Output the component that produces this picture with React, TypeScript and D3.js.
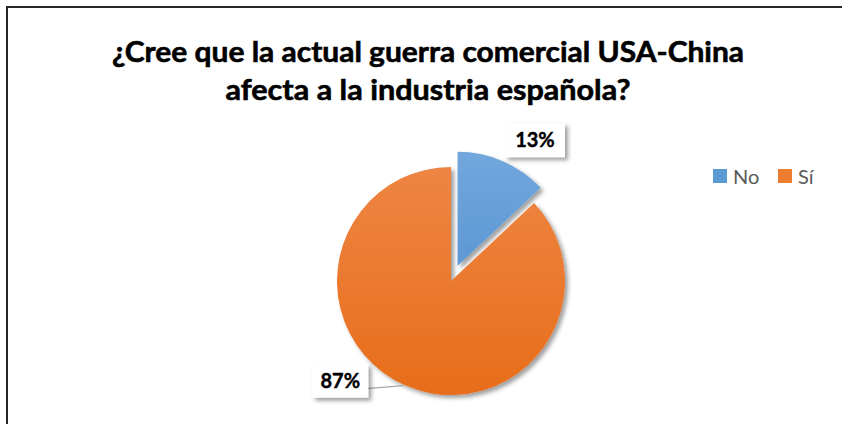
import React from "react";
import * as d3 from "d3";

const categories = ["No", "Sí"];
const values = [13, 87];
const colorsTop = ["#74A9DE", "#EF8746"];
const colorsBottom = ["#4A88CB", "#E76D1A"];
const legendColors = ["#5B9BD5", "#ED7D31"];
const titleLines = ["¿Cree que la actual guerra comercial USA-China", "afecta a la industria española?"];

const W = 842;
const H = 424;
const cx = 451;
const cy = 281;
const R = 114;
const explode = [16.5, 0];
// label placement: [angle in degrees, radius]
const labelPlace = [
  [30.8, 164],
  [228, 149],
];

export default function App() {
  const pie = d3.pie<number>().sort(null).value((d) => d).startAngle(0).endAngle(2 * Math.PI);
  const arcs = pie(values);
  const arc = d3.arc<d3.PieArcDatum<number>>().innerRadius(0).outerRadius(R);
  const total = d3.sum(values);

  return (
    <svg width={W} height={H} style={{ position: "absolute", left: 0, top: 0, background: "#fff" }}>
      <defs>
        <filter id="shadow" x="-20%" y="-20%" width="150%" height="150%">
          <feDropShadow dx="3" dy="3" stdDeviation="2.2" floodColor="#000" floodOpacity="0.38" />
        </filter>
        {categories.map((c, i) => (
          <linearGradient key={c} id={`g${i}`} gradientUnits="userSpaceOnUse" x1="0" y1={-R - 16} x2="0" y2={R}>
            <stop offset="0" stopColor={colorsTop[i]} />
            <stop offset="1" stopColor={colorsBottom[i]} />
          </linearGradient>
        ))}
      </defs>
      <rect x={0} y={0} width={W} height={H} fill="#fff" />
      <rect x={7} y={7} width={W + 10} height={H + 10} fill="none" stroke="#262626" strokeWidth={2} />
      {titleLines.map((t, i) => (
        <text
          key={i}
          x={428}
          y={62 + i * 38}
          textAnchor="middle"
          fontFamily="Lato, 'Open Sans', sans-serif"
          fontWeight="bold"
          fontSize={29}
          fill="#000"
          stroke="#000"
          strokeWidth={0.6}
          textLength={i === 0 ? 632 : 405}
          lengthAdjust="spacingAndGlyphs"
        >
          {t}
        </text>
      ))}
      <g filter="url(#shadow)">
        {arcs.map((a, i) => {
          const mid = (a.startAngle + a.endAngle) / 2;
          const dx = Math.sin(mid) * explode[i];
          const dy = -Math.cos(mid) * explode[i];
          return (
            <path key={i} d={arc(a) || ""} transform={`translate(${cx + dx},${cy + dy})`} fill={`url(#g${i})`} />
          );
        })}
      </g>
      {arcs.map((a, i) => {
        const ang = (labelPlace[i][0] * Math.PI) / 180;
        const lx = cx + Math.sin(ang) * labelPlace[i][1];
        const ly = cy - Math.cos(ang) * labelPlace[i][1];
        const bw = i === 0 ? 60 : 56;
        const bh = 34;
        const mid = (a.startAngle + a.endAngle) / 2;
        const ex = cx + Math.sin(mid) * R;
        const ey = cy - Math.cos(mid) * R;
        const pct = Math.round((values[i] / total) * 100) + "%";
        return (
          <g key={i}>
            {i === 1 && (
              <line x1={lx + bw / 2 - 2} y1={ly + 8} x2={ex - 2} y2={ey} stroke="#A6A6A6" strokeWidth={1.3} />
            )}
            <rect x={lx - bw / 2} y={ly - bh / 2} width={bw} height={bh} fill="#fff" filter="url(#shadow)" />
            <text
              x={lx}
              y={ly + 7}
              textAnchor="middle"
              fontFamily="Lato, 'Open Sans', sans-serif"
              fontWeight="bold"
              fontSize={20}
              fill="#000"
              stroke="#000"
              strokeWidth={0.4}
            >
              {pct}
            </text>
          </g>
        );
      })}
      {categories.map((c, i) => (
        <g key={c} transform={`translate(${713 + i * 65},169)`}>
          <rect x={0} y={0} width={14} height={14} fill={legendColors[i]} />
          <text x={20} y={14.5} fontFamily="Lato, 'Open Sans', sans-serif" fontSize={20} fill="#595959">
            {c}
          </text>
        </g>
      ))}
    </svg>
  );
}
